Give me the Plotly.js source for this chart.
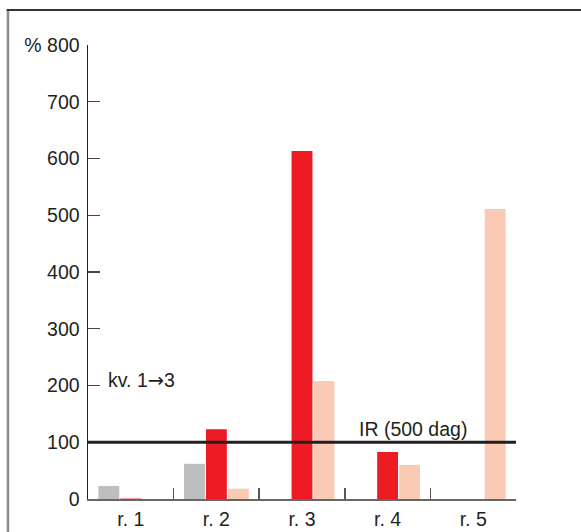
<!DOCTYPE html>
<html>
<head>
<meta charset="utf-8">
<script src="https://cdn.plot.ly/plotly-3.0.1.min.js"></script>
<style>html,body{margin:0;padding:0;background:#fff;}#chart{width:581px;height:532px;}</style>
</head>
<body>
<div id="chart"></div>
<script>
const categories = ['r. 1', 'r. 2', 'r. 3', 'r. 4', 'r. 5'];
const seriesGray = [23, 62, null, null, null];
const seriesRed = [0.8, 123, 613, 83, null];
const seriesPink = [null, 18, 208, 60, 511];
const yTickVals = [0, 100, 200, 300, 400, 500, 600, 700, 800];
const yTickText = ['0', '100', '200', '300', '400', '500', '600', '700', '% 800'];
const irLevel = 100;
const irLabel = 'IR (500 dag)';
const kvLabel = 'kv. 1<span style="font-family:DejaVu Sans">\u2192</span>3';

const textColor = '#231f20';
const font = {family: 'Liberation Sans, Arial, sans-serif', size: 19.5, color: textColor};

const traces = [
  {type: 'bar', x: categories, y: seriesGray, marker: {color: '#bcbec0'}, hoverinfo: 'skip'},
  {type: 'bar', x: categories, y: seriesRed, marker: {color: '#ed1c24'}, hoverinfo: 'skip'},
  {type: 'bar', x: categories, y: seriesPink, marker: {color: '#fbcab4'}, hoverinfo: 'skip'}
];

const layout = {
  width: 581, height: 532,
  margin: {l: 88, r: 65, t: 45, b: 33},
  paper_bgcolor: '#fff', plot_bgcolor: '#fff',
  showlegend: false,
  barmode: 'group', bargap: 0.23, bargroupgap: 0.05,
  font: font,
  xaxis: {
    type: 'category', range: [-0.5, 4.5],
    showline: true, linecolor: '#666', linewidth: 1.5,
    ticks: 'inside', tickson: 'boundaries', ticklen: 11, tickcolor: '#555', tickwidth: 1.5,
    ticklabelstandoff: 2,
    showgrid: false, zeroline: false, tickfont: font, fixedrange: true
  },
  yaxis: {
    range: [0, 800], tickvals: yTickVals, ticktext: yTickText,
    showline: true, linecolor: textColor, linewidth: 1.5,
    ticks: 'inside', ticklen: 12, tickcolor: '#444', tickwidth: 1.2,
    ticklabelstandoff: 3,
    showgrid: false, zeroline: false, tickfont: font, fixedrange: true
  },
  shapes: [
    {type: 'line', xref: 'paper', yref: 'y', x0: 0, x1: 1, y0: irLevel, y1: irLevel,
     line: {color: textColor, width: 3}},
    {type: 'line', xref: 'paper', yref: 'paper', x0: -0.187, x1: -0.187, y0: 1.077, y1: -0.08,
     line: {color: '#8a8a8a', width: 2.5}},
    {type: 'line', xref: 'paper', yref: 'paper', x0: -0.19, x1: 1.16, y0: 1.077, y1: 1.077,
     line: {color: '#333', width: 2}}
  ],
  annotations: [
    {xref: 'paper', yref: 'y', x: 0.759, y: 123, text: irLabel, showarrow: false,
     xanchor: 'center', yanchor: 'middle', font: font},
    {xref: 'paper', yref: 'y', x: 0.042, y: 208, text: kvLabel, showarrow: false,
     xanchor: 'left', yanchor: 'middle', font: font}
  ]
};

Plotly.newPlot('chart', traces, layout, {displayModeBar: false, staticPlot: true});
</script>
</body>
</html>
